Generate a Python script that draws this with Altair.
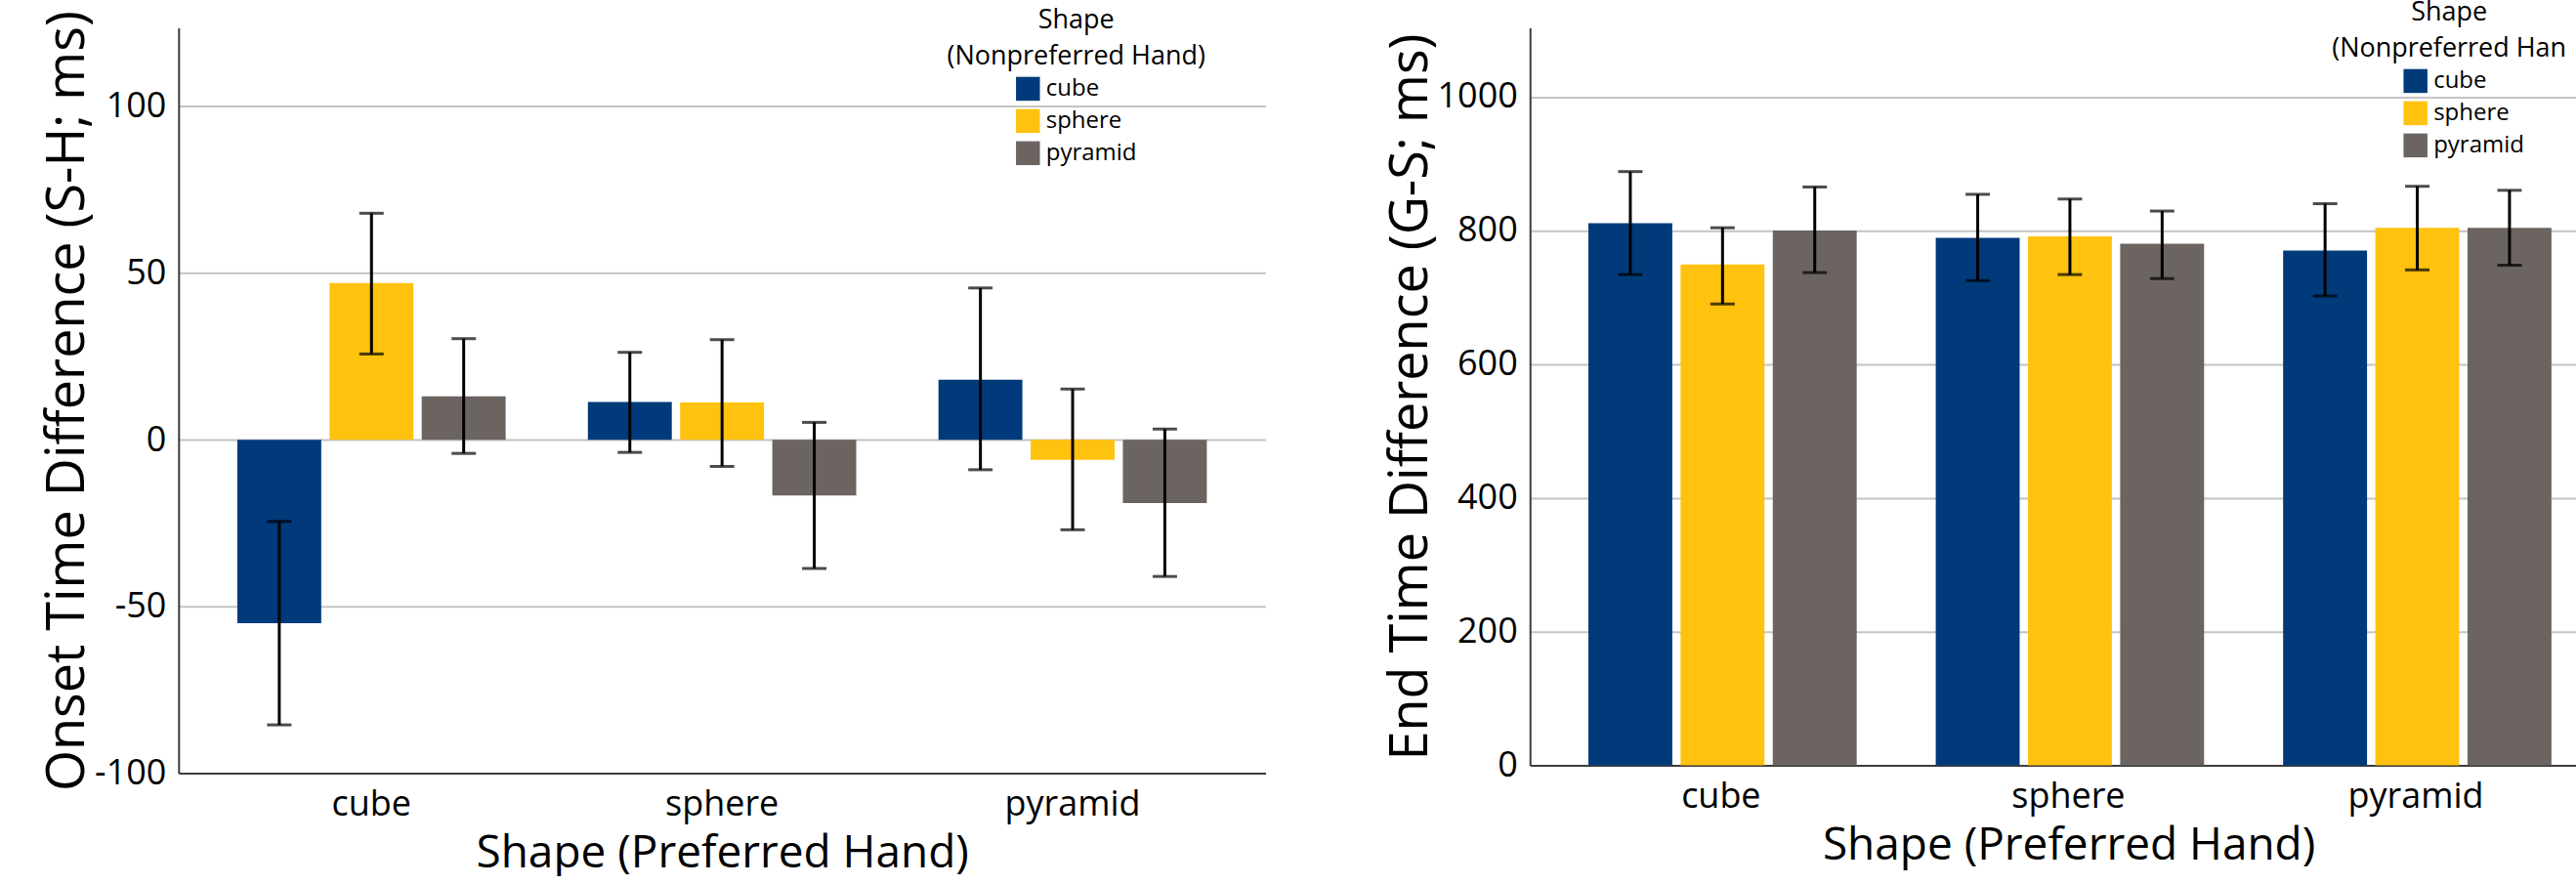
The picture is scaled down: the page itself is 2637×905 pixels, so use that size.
import altair as alt
import pandas as pd

# Nonpreferred-hand shapes (legend) and their fills
shapes = ["cube", "sphere", "pyramid"]
shape_colors = ["#003A7A", "#FFC20E", "#6B6461"]

# One row per (preferred-hand shape, nonpreferred-hand shape) cell
pref_hand = ["cube"] * 3 + ["sphere"] * 3 + ["pyramid"] * 3
nonpref_hand = shapes * 3

# Onset time difference (S-H; ms): means and error-bar limits
onset_mean = [-55.0, 47.0, 13.0, 11.3, 11.2, -16.7, 18.0, -6.0, -19.0]
onset_lo = [-85.5, 25.7, -4.1, -3.8, -8.0, -38.6, -9.0, -27.0, -41.0]
onset_hi = [-24.5, 67.9, 30.3, 26.2, 30.0, 5.2, 45.5, 15.2, 3.2]

# End time difference (G-S; ms): means and error-bar limits
end_mean = [811, 749, 800, 789, 791, 780, 770, 804, 804]
end_lo = [734, 690, 737, 725, 734, 728, 702, 741, 748]
end_hi = [888, 804, 865, 854, 847, 829, 840, 866, 860]

onset_ticks = [-100, -50, 0, 50, 100]
end_ticks = [0, 200, 400, 600, 800, 1000]

FONT = "Open Sans"


def frame(mean, lo, hi):
    return pd.DataFrame({"pref": pref_hand, "nonpref": nonpref_hand,
                         "mean": mean, "lo": lo, "hi": hi})


def panel(df, ytitle, domain, ticks, band, offset_inner, width, height,
          legend_x, legend_y, title_limit, symbol_offset, xtitle_x):
    x = alt.X("pref:N", sort=shapes, title="Shape (Preferred Hand)",
              scale=alt.Scale(**band),
              axis=alt.Axis(labelAngle=0, ticks=False, grid=False,
                            domainColor="#3C3C3C", domainWidth=2,
                            labelFontSize=36, labelPadding=15,
                            titleFontSize=46, titlePadding=10,
                            titleX=xtitle_x, titleFontWeight="normal"))
    xo = alt.XOffset("nonpref:N", sort=shapes,
                     scale=alt.Scale(paddingInner=offset_inner, paddingOuter=0))
    yscale = alt.Scale(domain=domain, nice=False, zero=False)
    yaxis = alt.Axis(values=ticks, ticks=False, grid=True, gridColor="#C4C4C4",
                     gridWidth=2, domainColor="#3C3C3C", domainWidth=2,
                     labelFontSize=36, labelPadding=13,
                     labelExpr="'' + datum.value",
                     titleFontSize=54, titleFontWeight="normal", titlePadding=0)
    color = alt.Color(
        "nonpref:N", sort=shapes,
        scale=alt.Scale(domain=shapes, range=shape_colors),
        legend=alt.Legend(orient="none", legendX=legend_x, legendY=legend_y,
                          title=["Shape", "(Nonpreferred Hand)"],
                          titleAnchor="middle", titleAlign="center",
                          titleFontSize=27, titleFontWeight="normal",
                          titleLineHeight=37, titleLimit=title_limit,
                          titlePadding=6, labelFontSize=24, labelLimit=300,
                          symbolType="square", symbolSize=600,
                          symbolStrokeWidth=0, symbolOffset=symbol_offset,
                          labelOffset=6, rowPadding=8, padding=0))

    bars = alt.Chart(df).mark_bar().encode(
        x=x, xOffset=xo,
        y=alt.Y("mean:Q", title=ytitle, scale=yscale, axis=yaxis),
        color=color)
    whisker = alt.Chart(df).mark_rule(color="black", strokeWidth=3).encode(
        x=x, xOffset=xo,
        y=alt.Y("lo:Q", title=ytitle, scale=yscale, axis=yaxis),
        y2="hi:Q")
    cap_lo = alt.Chart(df).mark_tick(color="black", size=25, thickness=3,
                                     orient="horizontal").encode(
        x=x, xOffset=xo,
        y=alt.Y("lo:Q", title=ytitle, scale=yscale, axis=yaxis))
    cap_hi = alt.Chart(df).mark_tick(color="black", size=25, thickness=3,
                                     orient="horizontal").encode(
        x=x, xOffset=xo,
        y=alt.Y("hi:Q", title=ytitle, scale=yscale, axis=yaxis))
    return alt.layer(bars, whisker, cap_lo, cap_hi).properties(
        width=width, height=height)


onset = panel(frame(onset_mean, onset_lo, onset_hi),
              "Onset Time Difference (S-H; ms)", [-100, 123.5], onset_ticks,
              dict(paddingInner=0.2346, paddingOuter=0.1676),
              0.09, 1114, 764, 788, -20, 400, 0, 557)

end = panel(frame(end_mean, end_lo, end_hi),
            "End Time Difference (G-S; ms)", [0, 1103], end_ticks,
            dict(paddingInner=0.236, paddingOuter=0.1236, align=0.68),
            0.106, 1072, 756, 822, -28, 250, 30, 552)

chart = alt.hconcat(onset, end, spacing=121).resolve_legend(
    color="independent"
).properties(
    padding={"left": 42, "top": 0, "right": 0, "bottom": 0}
).configure(
    font=FONT,
    style={"guide-title": alt.MarkConfig(ellipsis="\u200b")},
).configure_view(stroke=None).configure_axis(
    labelColor="black", titleColor="black", labelFont=FONT, titleFont=FONT
).configure_legend(
    labelColor="black", titleColor="black", labelFont=FONT, titleFont=FONT
)

chart.save("out.html", embed_options={"renderer": "svg", "actions": False})
